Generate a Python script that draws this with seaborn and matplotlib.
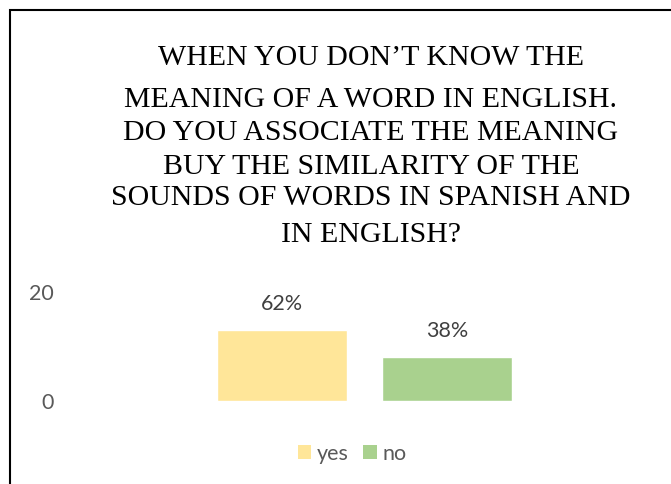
import matplotlib
matplotlib.use("Agg")
import matplotlib.pyplot as plt
from matplotlib.patches import Rectangle, Patch
import seaborn as sns
import pandas as pd

# Survey answers (counts) and their shares
answers = ["yes", "no"]
counts = [13, 8]
shares = ["62%", "38%"]
colors = ["#FFE699", "#A9D18E"]
y_ticks = [0, 20]
title_lines = [
    "WHEN YOU DON\u2019T KNOW THE",
    "MEANING OF A WORD IN ENGLISH.",
    "DO YOU ASSOCIATE THE MEANING",
    "BUY THE SIMILARITY OF THE",
    "SOUNDS OF WORDS IN SPANISH AND",
    "IN ENGLISH?",
]

sns.set_theme(style="white")
plt.rcParams["font.family"] = ["Lato", "DejaVu Sans"]

W, H = 671, 484
fig = plt.figure(figsize=(W / 100, H / 100), dpi=100)
fig.patch.set_facecolor("white")

def fx(px):
    return px / W

def fy(py):
    return 1 - py / H

# plot area: x 84..645 px, y 292 (20) .. 401 (0) px
ax = fig.add_axes([fx(84), fy(401), fx(645) - fx(84), (401 - 292) / H])

df = pd.DataFrame({"answer": answers, "count": counts})
sns.barplot(data=df, x="answer", y="count", hue="answer", palette=colors,
            width=0.79, ax=ax, legend=False, saturation=1)

ax.set_xlim(-1.2, 2.2)
ax.set_ylim(0, 20)
ax.set_yticks(y_ticks)
ax.set_yticklabels([str(t) for t in y_ticks])
ax.set_xticks([])
ax.set_xlabel("")
ax.set_ylabel("")
for s in ax.spines.values():
    s.set_visible(False)
ax.tick_params(axis="y", length=0, pad=22, labelsize=15.5, labelcolor="#595959")
ax.patch.set_alpha(0)

for i, (c, s) in enumerate(zip(counts, shares)):
    ax.annotate(s, (i, c), xytext=(0, 19), textcoords="offset points",
                ha="center", va="center", fontsize=15.5, color="#404040",
                annotation_clip=False)

# title, one line at a time (baselines in pixels from the top)
line_base = [65, 107, 140, 174, 205, 242]
for txt, py in zip(title_lines, line_base):
    fig.text(fx(371), fy(py), txt, ha="center", va="baseline",
             fontsize=21.5, family="Liberation Serif", color="#000000")

# legend
handles = [Patch(facecolor=c, edgecolor="none", label=a) for a, c in zip(answers, colors)]
fig.legend(handles=handles, loc="center", bbox_to_anchor=(fx(352), fy(454)),
           ncol=2, frameon=False, fontsize=15.5, handlelength=0.62, handleheight=0.62,
           handletextpad=0.25, columnspacing=0.7, labelcolor="#595959")

# outer frame
fig.add_artist(Rectangle((fx(9.5), -0.1), 1.2, fy(10.5) + 0.1, transform=fig.transFigure,
                         fill=False, edgecolor="black", linewidth=1.5))

fig.savefig("out.png", dpi=100)
